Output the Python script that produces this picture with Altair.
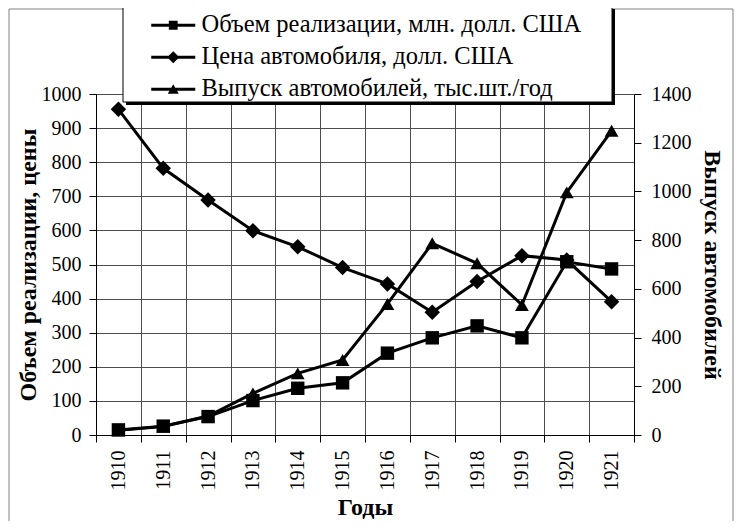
import altair as alt
import pandas as pd

# данные: Ford, 1910-1921
years = [1910, 1911, 1912, 1913, 1914, 1915, 1916, 1917, 1918, 1919, 1920, 1921]
volume = [15, 26, 54, 101, 137, 153, 240, 285, 320, 285, 508, 487]
price = [955, 782, 689, 599, 552, 491, 443, 360, 450, 526, 513, 391]
output = [19, 35, 78, 171, 253, 308, 538, 787, 705, 534, 996, 1249]

VOL = "Объем реализации, млн. долл. США"
PRICE = "Цена автомобиля, долл. США"
OUT = "Выпуск автомобилей, тыс.шт./год"
series_names = [VOL, PRICE, OUT]

# значки легенды: полоска линии + маркер (всё заливкой)
legend_paths = [
    "M-2,-0.13H2V0.13H-2ZM-0.4,-0.4H0.4V0.4H-0.4Z",
    "M-2,-0.13H2V0.13H-2ZM-0.55,0L0,-0.55L0.55,0L0,0.55Z",
    "M-2,-0.13H2V0.13H-2ZM-0.5,0.42L0,-0.45L0.5,0.42Z",
]

FONT = "Liberation Serif"

df = pd.DataFrame(
    {
        "year": years * 3,
        "series": [VOL] * len(years) + [PRICE] * len(years) + [OUT] * len(years),
        "value": volume + price + output,
    }
)
frame = pd.DataFrame({"k": [0]})

x_enc = alt.X(
    "year:O",
    title="Годы",
    scale=alt.Scale(type="band", paddingInner=0, paddingOuter=0),
    axis=alt.Axis(tickBand="extent", labelAngle=-90, grid=True, labelPadding=8, titlePadding=5),
)
y_left = alt.Y(
    "value:Q",
    title="Объем реализации, цены",
    scale=alt.Scale(domain=[0, 1000], nice=False),
    axis=alt.Axis(values=list(range(0, 1001, 100)), format="d", grid=True, labelPadding=8, titlePadding=1),
)
y_right = alt.Y(
    "value:Q",
    title="Выпуск автомобилей",
    scale=alt.Scale(domain=[0, 1400], nice=False),
    axis=alt.Axis(
        orient="right", values=list(range(0, 1401, 200)), format="d", grid=False, labelPadding=10, titlePadding=8
    ),
)

# рамка вокруг всей диаграммы, рамка легенды и её тень
border = alt.Chart(frame).mark_rect(fillOpacity=0, stroke="#808080", strokeWidth=1).encode(
    x=alt.value(-87), x2=alt.value(637), y=alt.value(-85), y2=alt.value(600)
)
shadow = alt.Chart(frame).mark_rect(color="black").encode(
    x=alt.value(30), x2=alt.value(519), y=alt.value(-85), y2=alt.value(11)
)
box = alt.Chart(frame).mark_rect(fill="white", stroke="black", strokeWidth=1).encode(
    x=alt.value(27), x2=alt.value(516), y=alt.value(-88), y2=alt.value(8)
)

lines_left = (
    alt.Chart(df)
    .transform_filter(alt.FieldOneOfPredicate(field="series", oneOf=[VOL, PRICE]))
    .mark_line(color="black", strokeWidth=3)
    .encode(x=x_enc, y=y_left, detail="series:N")
)
squares = (
    alt.Chart(df)
    .transform_filter(alt.datum.series == VOL)
    .mark_point(shape="square", filled=True, size=180, color="black", opacity=1)
    .encode(x=x_enc, y=y_left)
)
diamonds = (
    alt.Chart(df)
    .transform_filter(alt.datum.series == PRICE)
    .mark_point(shape="diamond", filled=True, size=240, color="black", opacity=1)
    .encode(x=x_enc, y=y_left)
)
legend_layer = (
    alt.Chart(df)
    .mark_point(filled=True, color="black", opacity=1)
    .encode(
        y=alt.value(-3000),
        shape=alt.Shape(
            "series:N",
            scale=alt.Scale(domain=series_names, range=legend_paths),
            legend=alt.Legend(
                title=None,
                orient="none",
                legendX=27,
                legendY=-89,
                labelFont=FONT,
                labelFontSize=24.5,
                labelColor="black",
                labelLimit=0,
                symbolSize=484,
                symbolStrokeWidth=0,
                symbolFillColor="black",
                symbolOffset=30,
                labelOffset=16,
                padding=8,
                rowPadding=7,
            ),
        ),
    )
)

line_right = (
    alt.Chart(df)
    .transform_filter(alt.datum.series == OUT)
    .mark_line(color="black", strokeWidth=3)
    .encode(x=x_enc, y=y_right)
)
triangles = (
    alt.Chart(df)
    .transform_filter(alt.datum.series == OUT)
    .mark_point(shape="triangle-up", filled=True, size=190, color="black", opacity=1)
    .encode(x=x_enc, y=y_right)
)

left = alt.layer(border, shadow, box, lines_left, squares, diamonds, legend_layer)
right = alt.layer(line_right, triangles)

chart = (
    alt.layer(left, right)
    .resolve_scale(y="independent")
    .properties(
        width=538,
        height=341,
        autosize=alt.AutoSizeParams(type="none"),
        padding={"left": 88, "top": 86, "right": 100, "bottom": 86},
    )
    .configure(font=FONT)
    .configure_axis(
        labelFont=FONT,
        titleFont=FONT,
        labelFontSize=20,
        titleFontSize=24,
        titleFontWeight="bold",
        labelColor="black",
        titleColor="black",
        domainColor="black",
        tickColor="black",
        gridColor="#4d4d4d",
        gridWidth=1,
        tickSize=7,
    )
    .configure_legend(labelFont=FONT)
    .configure_view(stroke="transparent")
)

chart.save("out.html", embed_options={"renderer": "svg", "actions": False})
